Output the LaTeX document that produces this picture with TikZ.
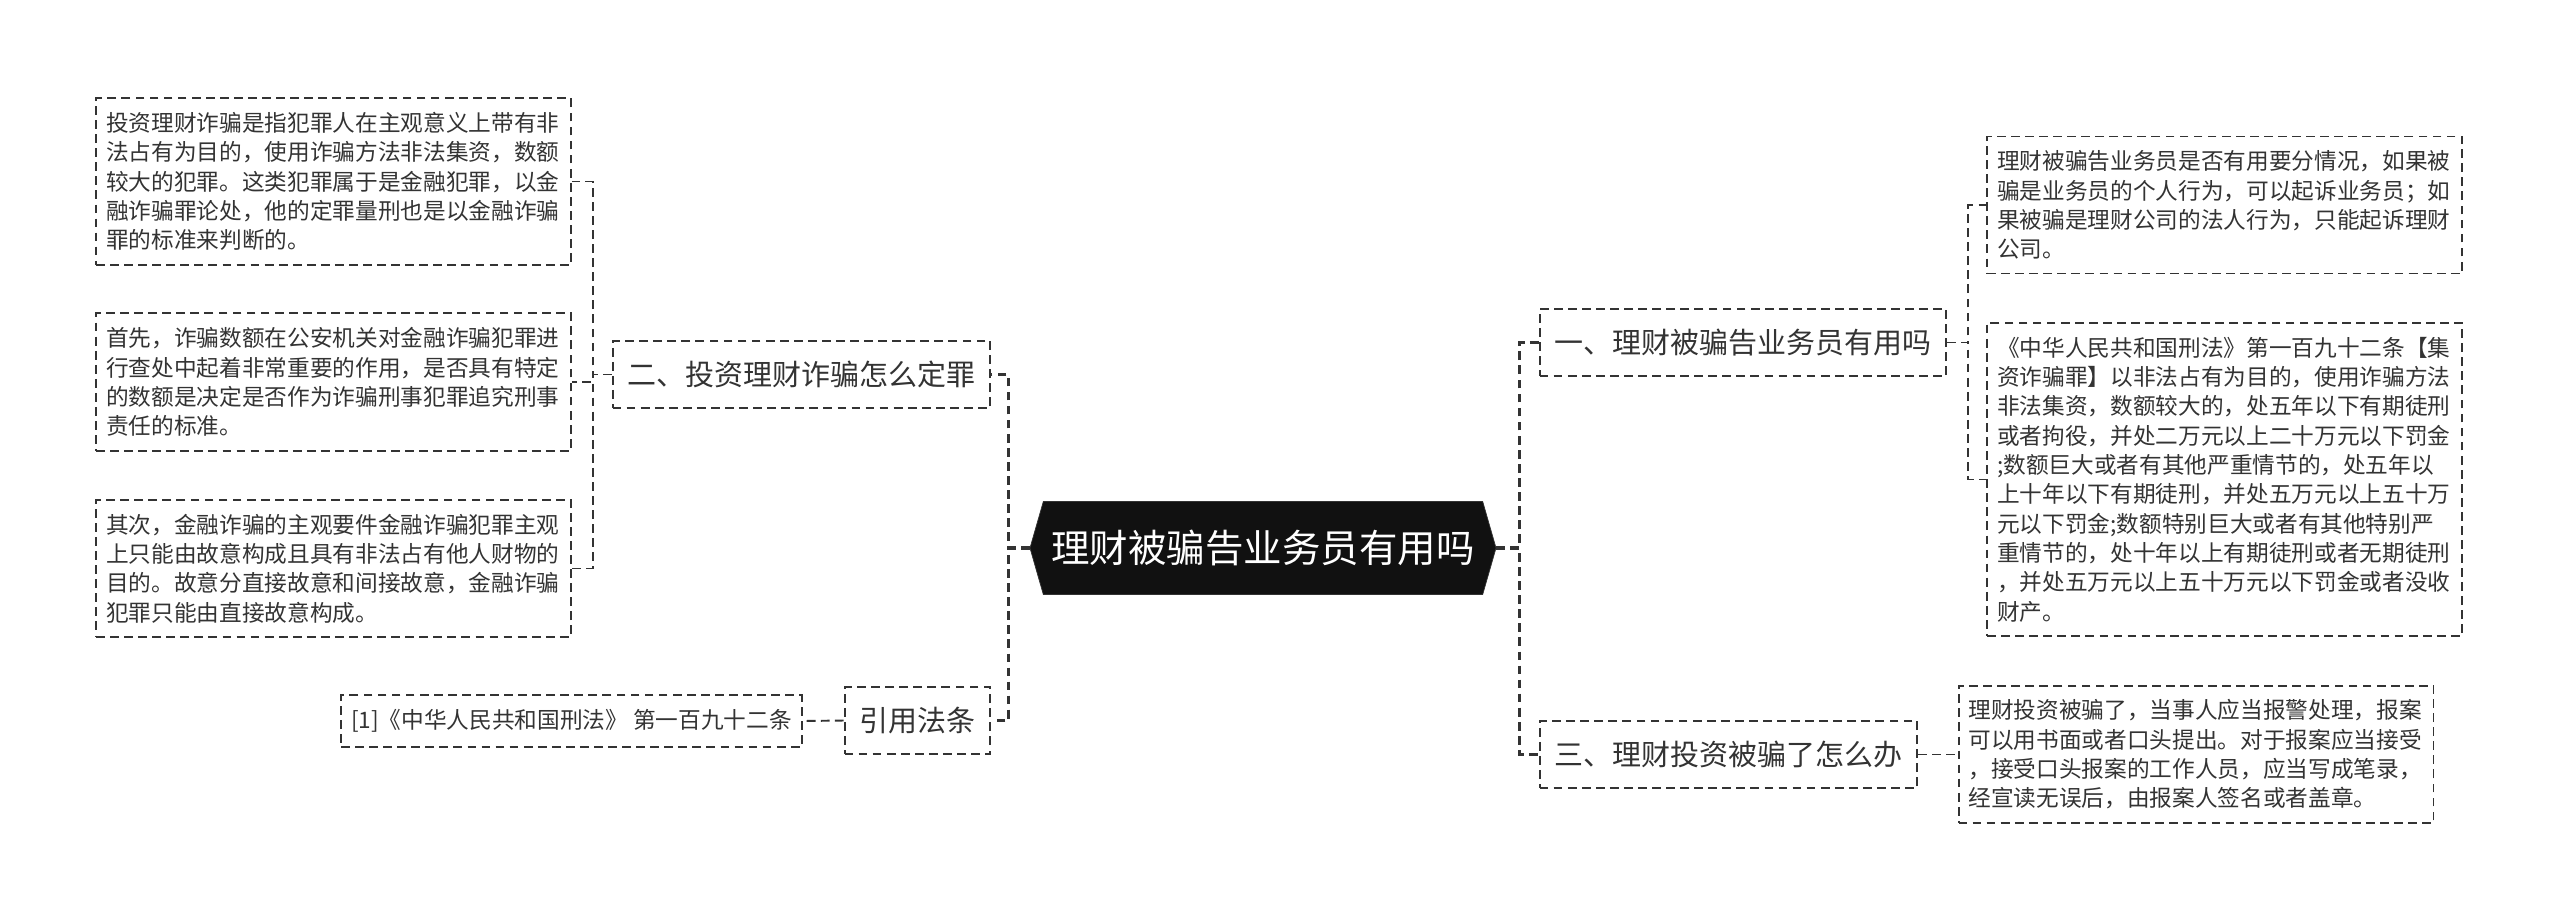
\documentclass[tikz,border=0pt]{standalone}
\usepackage{fontspec}
\newfontfamily\cjk{Noto Sans CJK SC}
\usepackage{xcolor}
\usetikzlibrary{shapes.symbols}
\definecolor{InkGray}{HTML}{333333}
\definecolor{RootBlack}{HTML}{111111}

\begin{document}
\begin{tikzpicture}[x=0.02cm, y=-0.02cm,
        topic/.style={signal, signal to=west and east, signal pointer angle=148,
                    fill=RootBlack, draw=InkGray, text=white, inner sep=0pt,
                    minimum width=466*0.02cm, minimum height=93*0.02cm,
                    font=\cjk\fontsize{21.9}{26}\selectfont},
        branch/.style={draw=InkGray, line width=1.1pt, dash pattern=on 5pt off 3pt,
                    minimum height=67*0.02cm, inner xsep=8.5pt, text=InkGray,
                    font=\cjk\fontsize{16.5}{20}\selectfont},
        leaf/.style={draw=InkGray, line width=1.1pt, dash pattern=on 5pt off 3pt,
                    text width=9.1cm, align=left, inner xsep=0.2cm, inner ysep=8pt,
                    text=InkGray, font=\cjk\fontsize{12.9}{16.7}\selectfont},
        trunk/.style={draw=InkGray, line width=1.8pt, dash pattern=on 5pt off 3pt},
        link/.style={draw=InkGray, line width=1.1pt, dash pattern=on 5pt off 3pt}]

        \useasboundingbox (0,0) rectangle (2560,921);

        % Central topic
        \node[topic] (topic) at (1263,548) {理财被骗告业务员有用吗};

        % Branches
        \node[branch] (crime)  at (801.5,374.5)  {二、投资理财诈骗怎么定罪};
        \node[branch] (lawref) at (917.5,720.5)  {引用法条};
        \node[branch] (useful) at (1743,342.5)   {一、理财被骗告业务员有用吗};
        \node[branch] (howto)  at (1728.5,754.5) {三、理财投资被骗了怎么办};

        % Left leaves
        \node[leaf] (defn) at (333.5,181.5) {投资理财诈骗是指犯罪人在主观意义上带有非\\
            法占有为目的，使用诈骗方法非法集资，数额\\
            较大的犯罪。这类犯罪属于是金融犯罪，以金\\
            融诈骗罪论处，他的定罪量刑也是以金融诈骗\\
            罪的标准来判断的。};
        \node[leaf] (amount) at (333.5,382) {首先，诈骗数额在公安机关对金融诈骗犯罪进\\
            行查处中起着非常重要的作用，是否具有特定\\
            的数额是决定是否作为诈骗刑事犯罪追究刑事\\
            责任的标准。};
        \node[leaf] (intent) at (333.5,568.5) {其次，金融诈骗的主观要件金融诈骗犯罪主观\\
            上只能由故意构成且具有非法占有他人财物的\\
            目的。故意分直接故意和间接故意，金融诈骗\\
            犯罪只能由直接故意构成。};
        \node[leaf, text width=, align=center] (cite) at (571.5,721) {[1]《中华人民共和国刑法》 第一百九十二条};

        % Right leaves
        \node[leaf] (suing) at (2224.5,205) {理财被骗告业务员是否有用要分情况，如果被\\
            骗是业务员的个人行为，可以起诉业务员；如\\
            果被骗是理财公司的法人行为，只能起诉理财\\
            公司。};
        \node[leaf] (article) at (2224.5,479.5) {《中华人民共和国刑法》第一百九十二条【集\\
            资诈骗罪】以非法占有为目的，使用诈骗方法\\
            非法集资，数额较大的，处五年以下有期徒刑\\
            或者拘役，并处二万元以上二十万元以下罚金\\
            ;数额巨大或者有其他严重情节的，处五年以\\
            上十年以下有期徒刑，并处五万元以上五十万\\
            元以下罚金;数额特别巨大或者有其他特别严\\
            重情节的，处十年以上有期徒刑或者无期徒刑\\
            ，并处五万元以上五十万元以下罚金或者没收\\
            财产。};
        \node[leaf] (report) at (2196,754.5) {理财投资被骗了，当事人应当报警处理，报案\\
            可以用书面或者口头提出。对于报案应当接受\\
            ，接受口头报案的工作人员，应当写成笔录，\\
            经宣读无误后，由报案人签名或者盖章。};

        % Connectors from the topic
        \draw[trunk] (topic.west) -- ++(-21,0) |- (crime.east);
        \draw[trunk] (topic.west) -- ++(-21,0) |- (lawref.east);
        \draw[trunk] (topic.east) -- ++(23,0) |- (useful.west);
        \draw[trunk] (topic.east) -- ++(23,0) |- (howto.west);

        % Connectors to the leaves
        \draw[link] (crime.west) -- ++(-19,0) |- (defn.east);
        \draw[link] (crime.west) -- ++(-19,0) |- (amount.east);
        \draw[link] (crime.west) -- ++(-19,0) |- (intent.east);
        \draw[link] (lawref.west) -- (cite.east);
        \draw[link] (useful.east) -- ++(21,0) |- (suing.west);
        \draw[link] (useful.east) -- ++(21,0) |- (article.west);
        \draw[link] (howto.east) -- (report.west);
      \end{tikzpicture}
\end{document}
